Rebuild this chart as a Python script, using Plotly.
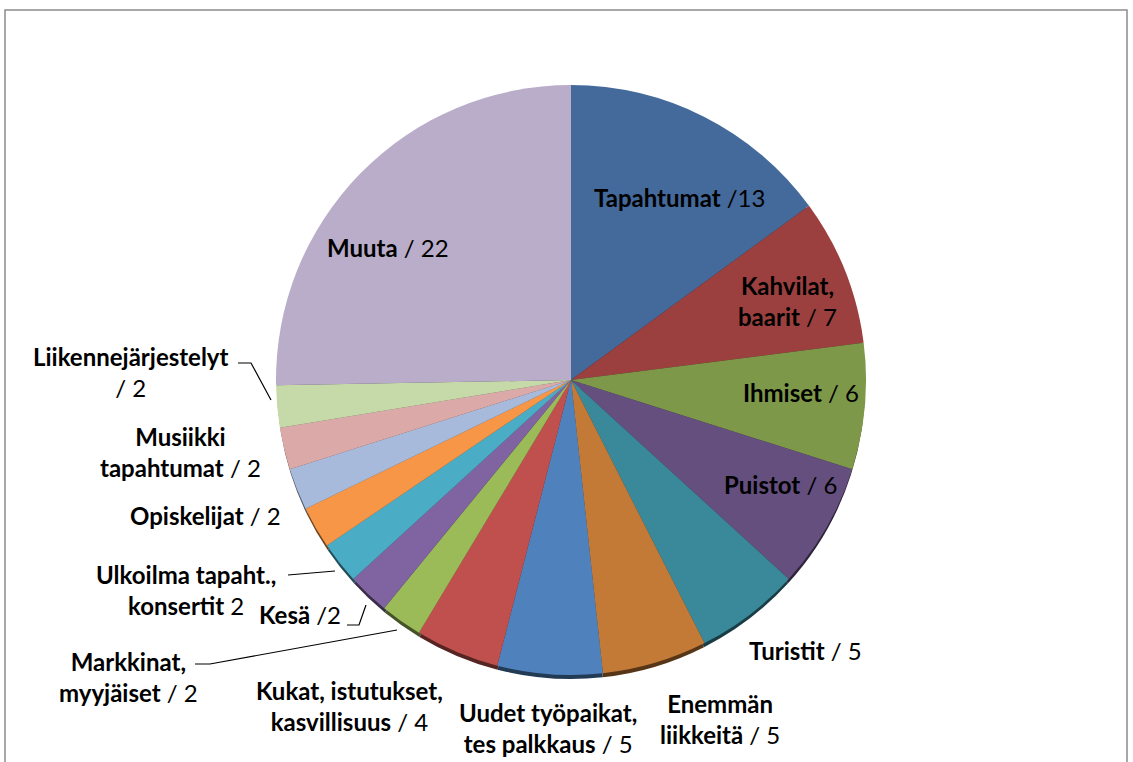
import plotly.graph_objects as go

# slices, clockwise from 12 o'clock
categories = [
    "Tapahtumat", "Kahvilat, baarit", "Ihmiset", "Puistot", "Turistit",
    "Enemmän liikkeitä", "Uudet työpaikat, tes palkkaus",
    "Kukat, istutukset, kasvillisuus", "Markkinat, myyjäiset", "Kesä",
    "Ulkoilma tapaht., konsertit", "Opiskelijat", "Musiikki tapahtumat",
    "(nimeämätön)", "Liikennejärjestelyt", "Muuta",
]
values = [13, 7, 6, 6, 5, 5, 5, 4, 2, 2, 2, 2, 2, 2, 2, 22]

# label texts as shown on the chart ("" = slice without a label)
label_texts = [
    "<b>Tapahtumat</b> /13",
    "<b>Kahvilat,<br>baarit</b> / 7",
    "<b>Ihmiset</b> / 6",
    "<b>Puistot</b> / 6",
    "<b>Turistit</b> / 5",
    "<b>Enemmän</b><br><b>liikkeitä</b> / 5",
    "<b>Uudet työpaikat,</b><br><b>tes palkkaus</b> / 5",
    "<b>Kukat, istutukset,</b><br><b>kasvillisuus</b> / 4",
    "<b>Markkinat,</b><br><b>myyjäiset</b> / 2",
    "<b>Kesä</b> /2",
    "<b>Ulkoilma tapaht.,</b><br><b>konsertit</b> 2",
    "<b>Opiskelijat</b> / 2",
    "<b>Musiikki</b><br><b>tapahtumat</b> / 2",
    "",
    "<b>Liikennejärjestelyt</b><br>/ 2",
    "<b>Muuta</b> / 22",
]

colors = [
    "#44699b", "#9b403e", "#7e984a", "#654f7f", "#3a899a", "#c27a36",
    "#4f81bd", "#c0504d", "#9bbb59", "#8064a2", "#4bacc6", "#f79646",
    "#a8badb", "#dba9a8", "#c6d9a9", "#b9adc9",
]

W, H = 1133, 762
CX, CY, R = 571, 380, 295


def px(x, y):
    return x / W, 1 - y / H


def darker(c, f=0.45):
    r, g, b = (int(c[i:i + 2], 16) for i in (1, 3, 5))
    return f"rgb({int(r * f)},{int(g * f)},{int(b * f)})"


def pie_domain(cx, cy, r):
    return dict(x=[(cx - r) / W, (cx + r) / W], y=[1 - (cy + r) / H, 1 - (cy - r) / H])


fig = go.Figure()

# dark edge underneath for the slight 3D look
fig.add_trace(go.Pie(
    labels=categories, values=values, sort=False, direction="clockwise",
    rotation=0, textinfo="none", hoverinfo="skip", showlegend=False,
    marker=dict(colors=[darker(c) for c in colors], line=dict(width=0)),
    domain=pie_domain(CX, CY + 5, R - 1),
))
fig.add_trace(go.Pie(
    labels=categories, values=values, sort=False, direction="clockwise",
    rotation=0, textinfo="none", showlegend=False,
    marker=dict(colors=colors, line=dict(width=0)),
    domain=pie_domain(CX, CY, R),
))

# label centres in pixels (same order as categories)
label_pos = [
    (679, 197), (787, 301), (801, 392), (780, 484), (805, 650),
    (720, 719), (548, 728), (349, 706), (128, 677), (300, 614),
    (186, 590), (205, 515), (180, 452), (0, 0), (131, 372), (388, 247),
]

for txt, (x, y) in zip(label_texts, label_pos):
    if not txt:
        continue
    ax, ay = px(x, y)
    fig.add_annotation(
        x=ax, y=ay, xref="paper", yref="paper", text=txt, showarrow=False,
        xanchor="center", yanchor="middle", align="center",
        font=dict(family="Lato, Carlito, sans-serif", size=24, color="#000000"),
    )

# leader lines
leaders = [
    [(195, 664), (210, 664), (397, 630)],
    [(347, 625), (359, 625), (366, 605)],
    [(288, 575), (335, 571)],
    [(238, 363), (251, 363), (271, 400)],
]
for pts in leaders:
    path = " ".join(
        ("M" if i == 0 else "L") + " {:.5f} {:.5f}".format(*px(*p))
        for i, p in enumerate(pts)
    )
    fig.add_shape(type="path", path=path, xref="paper", yref="paper",
                  line=dict(color="#000000", width=1.2))

# chart area border
x0, y0 = px(5, 10)
x1, y1 = px(1127, 775)
fig.add_shape(type="rect", x0=x0, y0=y1, x1=x1, y1=y0, xref="paper", yref="paper",
              line=dict(color="#8c8c8c", width=1.5))

fig.update_layout(
    width=W, height=H, margin=dict(l=0, r=0, t=0, b=0),
    paper_bgcolor="white", plot_bgcolor="white",
)

fig.write_html("out.html", config={"displayModeBar": False},
               post_script="document.body.style.margin='0';")
